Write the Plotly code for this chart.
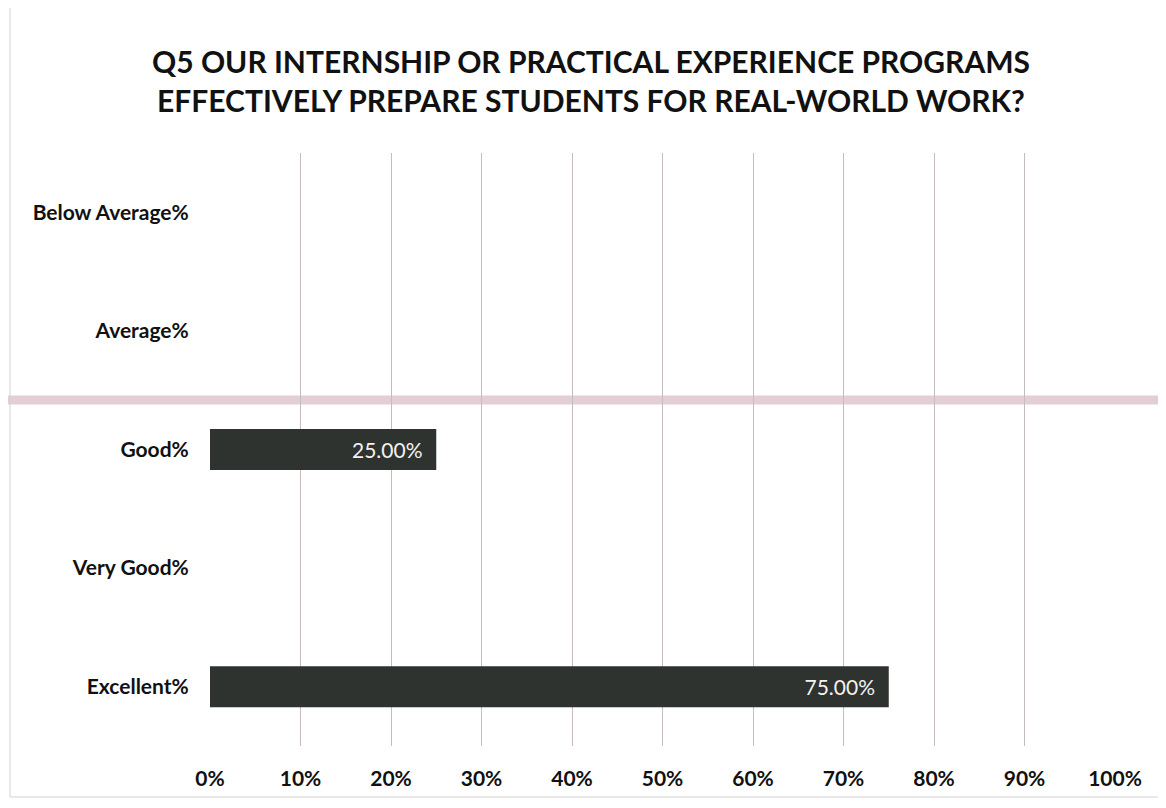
import plotly.graph_objects as go

categories = ["Below Average%", "Average%", "Good%", "Very Good%", "Excellent%"]
values = [0, 0, 25, 0, 75]
tick_vals = [0, 10, 20, 30, 40, 50, 60, 70, 80, 90, 100]
tick_text = [f"{v}%" for v in tick_vals]
title_text = ("Q5 OUR INTERNSHIP OR PRACTICAL EXPERIENCE PROGRAMS<br>"
              "EFFECTIVELY PREPARE STUDENTS FOR REAL-WORLD WORK?")

labels = [f"{v:.2f}%\u00a0\u00a0" if v > 0 else "" for v in values]

FONT = "Lato, 'Open Sans', sans-serif"

fig = go.Figure(go.Bar(
    x=values, y=categories, orientation="h",
    marker=dict(color="#2e3330", line=dict(width=0)),
    text=labels, textposition="inside", insidetextanchor="end",
    textfont=dict(family=FONT, size=21, color="#f2f2f2"),
    cliponaxis=False,
))

fig.update_layout(
    width=1166, height=808,
    paper_bgcolor="white", plot_bgcolor="white",
    margin=dict(l=202, r=59, t=145, b=70),
    bargap=0.655,
    showlegend=False,
    font=dict(family=FONT, color="#111111"),
    title=dict(text="<b>" + title_text + "</b>", x=0.5, xanchor="center",
               y=1 - 65 / 808, yanchor="middle",
               font=dict(family=FONT, size=30, color="#111111")),
    xaxis=dict(range=[0, 100], tickvals=tick_vals, ticktext=tick_text,
               showgrid=True, gridcolor="#c6bcbc", gridwidth=1,
               zeroline=False, showline=False,
               ticks="outside", ticklen=14, tickcolor="rgba(0,0,0,0)",
               tickfont=dict(family=FONT, size=21, color="#111111", weight="bold")),
    yaxis=dict(autorange="reversed", showgrid=False, zeroline=False, showline=False,
               ticks="outside", ticklen=16, tickcolor="rgba(0,0,0,0)",
               tickfont=dict(family=FONT, size=21, color="#111111", weight="bold")),
    shapes=[
        dict(type="line", xref="paper", yref="paper",
             x0=-0.25, x1=1.07, y0=0.5835, y1=0.5835,
             line=dict(color="rgba(215,185,200,0.7)", width=9), layer="below"),
        dict(type="line", xref="paper", yref="paper",
             x0=-0.221, x1=-0.221, y0=-0.086, y1=1.3,
             line=dict(color="#d4d0d0", width=1), layer="below"),
        dict(type="line", xref="paper", yref="paper",
             x0=-0.221, x1=1.07, y0=-0.086, y1=-0.086,
             line=dict(color="#d4d0d0", width=1), layer="below"),
    ],
)

fig.write_html("out.html")
